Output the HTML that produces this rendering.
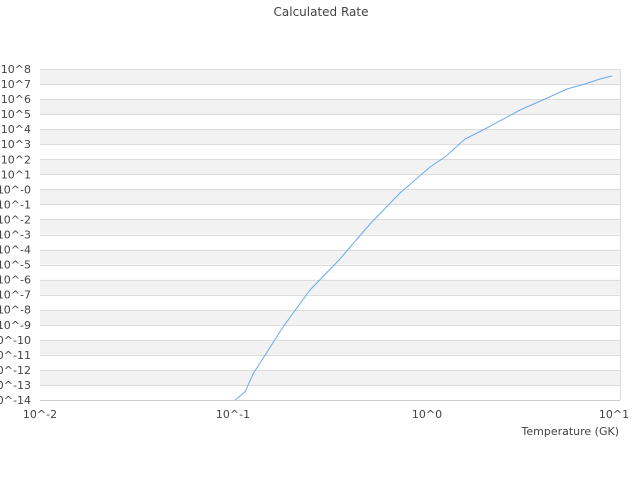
<!DOCTYPE html>
<html><head><meta charset="utf-8"><style>
html,body{margin:0;padding:0;background:#fff;}
svg{display:block;font-family:"DejaVu Sans","Liberation Sans",sans-serif;}
</style></head><body>
<svg id="s" width="640" height="480" xmlns="http://www.w3.org/2000/svg">
<text x="321" y="16" font-size="12" fill="#444" text-anchor="middle">Calculated Rate</text>
<g id="bands"></g>
<g id="grid" stroke="#dcdcdc" stroke-width="1"></g>
<g id="ylab" font-size="11" fill="#444" text-anchor="end"></g>
<line x1="40" y1="400.5" x2="620" y2="400.5" stroke="#ccc"/>
<line x1="620.5" y1="69" x2="620.5" y2="400" stroke="#ddd"/>
<line x1="40" y1="69.5" x2="620" y2="69.5" stroke="#ddd"/>
<g font-size="11" fill="#444" text-anchor="middle">
<text x="40" y="418">10^-2</text>
<text x="233" y="418">10^-1</text>
<text x="427" y="418">10^0</text>
<text x="614" y="418">10^1</text>
</g>
<text x="619" y="435" font-size="11" fill="#444" text-anchor="end">Temperature (GK)</text>
<polyline fill="none" stroke="#6aaaf0" stroke-width="1" points="235,400 245,392 253,374 283,327 310,290 339,260 370,224 400,193 430,167 445,157 465,139 485,129 520,110 545,99 567,89 585,84 600,79 612,76"/>
</svg>
<script>
var ns="http://www.w3.org/2000/svg";
function y(e){return 400-(e+14)*(331/22);}
var b=document.getElementById('bands'),g=document.getElementById('grid'),l=document.getElementById('ylab');
for(var e=8;e>-14;e-=2){var r=document.createElementNS(ns,'rect');r.setAttribute('x',40);r.setAttribute('y',y(e));r.setAttribute('width',580);r.setAttribute('height',331/22);r.setAttribute('fill','#f2f2f2');b.appendChild(r);}
for(var e=8;e>=-14;e--){var yy=Math.round(y(e))+0.5;var ln=document.createElementNS(ns,'line');ln.setAttribute('x1',40);ln.setAttribute('x2',620);ln.setAttribute('y1',yy);ln.setAttribute('y2',yy);g.appendChild(ln);
var t=document.createElementNS(ns,'text');t.setAttribute('x',31);t.setAttribute('y',y(e)+4);t.textContent='10^'+(e==0?'-0':e);l.appendChild(t);}
</script>
</body></html>
